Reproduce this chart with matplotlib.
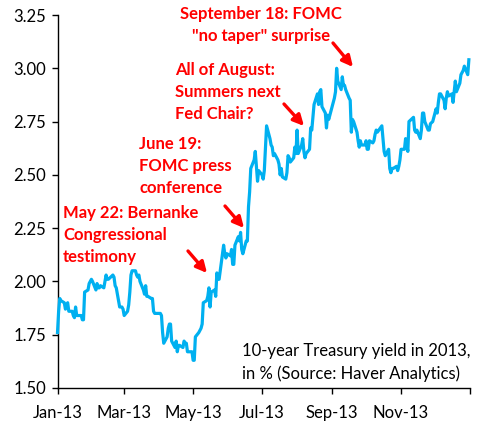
import matplotlib
matplotlib.use("Agg")
import matplotlib.pyplot as plt
import pandas as pd

plt.rcParams['font.family'] = ['Lato', 'DejaVu Sans']

dates = [
 "2013-01-01","2013-01-02","2013-01-03","2013-01-04","2013-01-07","2013-01-08","2013-01-09","2013-01-10","2013-01-11",
 "2013-01-14","2013-01-15","2013-01-16","2013-01-17","2013-01-18","2013-01-22","2013-01-23","2013-01-24","2013-01-25",
 "2013-01-28","2013-01-29","2013-01-30","2013-01-31","2013-02-01","2013-02-04","2013-02-05","2013-02-06","2013-02-07",
 "2013-02-08","2013-02-11","2013-02-12","2013-02-13","2013-02-14","2013-02-15","2013-02-19","2013-02-20","2013-02-21",
 "2013-02-22","2013-02-25","2013-02-26","2013-02-27","2013-02-28","2013-03-01","2013-03-04","2013-03-05","2013-03-06",
 "2013-03-07","2013-03-08","2013-03-11","2013-03-12","2013-03-13","2013-03-14","2013-03-15","2013-03-18","2013-03-19",
 "2013-03-20","2013-03-21","2013-03-22","2013-03-25","2013-03-26","2013-03-27","2013-03-28","2013-04-01","2013-04-02",
 "2013-04-03","2013-04-04","2013-04-05","2013-04-08","2013-04-09","2013-04-10","2013-04-11","2013-04-12","2013-04-15",
 "2013-04-16","2013-04-17","2013-04-18","2013-04-19","2013-04-22","2013-04-23","2013-04-24","2013-04-25","2013-04-26",
 "2013-04-29","2013-04-30","2013-05-01","2013-05-02","2013-05-03","2013-05-06","2013-05-07","2013-05-08","2013-05-09",
 "2013-05-10","2013-05-13","2013-05-14","2013-05-15","2013-05-16","2013-05-17","2013-05-20","2013-05-21","2013-05-22",
 "2013-05-23","2013-05-24","2013-05-28","2013-05-29","2013-05-30","2013-05-31","2013-06-03","2013-06-04","2013-06-05",
 "2013-06-06","2013-06-07","2013-06-10","2013-06-11","2013-06-12","2013-06-13","2013-06-14","2013-06-17","2013-06-18",
 "2013-06-19","2013-06-20","2013-06-21","2013-06-24","2013-06-25","2013-06-26","2013-06-27","2013-06-28","2013-07-01",
 "2013-07-02","2013-07-03","2013-07-05","2013-07-08","2013-07-09","2013-07-10","2013-07-11","2013-07-12","2013-07-15",
 "2013-07-16","2013-07-17","2013-07-18","2013-07-19","2013-07-22","2013-07-23","2013-07-24","2013-07-25","2013-07-26",
 "2013-07-29","2013-07-30","2013-07-31","2013-08-01","2013-08-02","2013-08-05","2013-08-06","2013-08-07","2013-08-08",
 "2013-08-09","2013-08-12","2013-08-13","2013-08-14","2013-08-15","2013-08-16","2013-08-19","2013-08-20","2013-08-21",
 "2013-08-22","2013-08-23","2013-08-26","2013-08-27","2013-08-28","2013-08-29","2013-08-30","2013-09-03","2013-09-04",
 "2013-09-05","2013-09-06","2013-09-09","2013-09-10","2013-09-11","2013-09-12","2013-09-13","2013-09-16","2013-09-17",
 "2013-09-18","2013-09-19","2013-09-20","2013-09-23","2013-09-24","2013-09-25","2013-09-26","2013-09-27","2013-09-30",
 "2013-10-01","2013-10-02","2013-10-03","2013-10-04","2013-10-07","2013-10-08","2013-10-09","2013-10-10","2013-10-11",
 "2013-10-15","2013-10-16","2013-10-17","2013-10-18","2013-10-21","2013-10-22","2013-10-23","2013-10-24","2013-10-25",
 "2013-10-28","2013-10-29","2013-10-30","2013-10-31","2013-11-01","2013-11-04","2013-11-05","2013-11-06","2013-11-07",
 "2013-11-08","2013-11-12","2013-11-13","2013-11-14","2013-11-15","2013-11-18","2013-11-19","2013-11-20","2013-11-21",
 "2013-11-22","2013-11-25","2013-11-26","2013-11-27","2013-11-29","2013-12-02","2013-12-03","2013-12-04","2013-12-05",
 "2013-12-06","2013-12-09","2013-12-10","2013-12-11","2013-12-12","2013-12-13","2013-12-16","2013-12-17","2013-12-18",
 "2013-12-19","2013-12-20","2013-12-23","2013-12-24","2013-12-26","2013-12-27","2013-12-30","2013-12-31",
]

yields = [
 1.76, 1.86, 1.92, 1.91, 1.90, 1.87, 1.89, 1.90, 1.86,
 1.86, 1.84, 1.83, 1.88, 1.84, 1.84, 1.82, 1.82, 1.95,
 1.96, 1.99, 2.00, 2.01, 2.00, 1.96, 1.99, 1.97, 1.97,
 1.98, 1.97, 2.00, 2.03, 2.01, 2.01, 2.03, 2.02, 1.98,
 1.97, 1.88, 1.88, 1.88, 1.87, 1.84, 1.86, 1.89, 1.95,
 2.03, 2.05, 2.05, 2.03, 2.02, 2.03, 2.00, 1.96, 1.94,
 1.98, 1.93, 1.93, 1.92, 1.92, 1.86, 1.85, 1.85, 1.85,
 1.84, 1.76, 1.71, 1.74, 1.78, 1.80, 1.80, 1.72, 1.69,
 1.72, 1.67, 1.70, 1.70, 1.69, 1.72, 1.71, 1.71, 1.67,
 1.67, 1.67, 1.63, 1.63, 1.74, 1.76, 1.77, 1.78, 1.80,
 1.90, 1.91, 1.93, 1.97, 1.88, 1.95, 1.96, 1.93, 2.04,
 2.01, 2.01, 2.17, 2.13, 2.11, 2.13, 2.12, 2.15, 2.08,
 2.08, 2.17, 2.21, 2.19, 2.23, 2.15, 2.13, 2.19, 2.19,
 2.35, 2.42, 2.53, 2.57, 2.61, 2.54, 2.47, 2.52, 2.50,
 2.48, 2.52, 2.73, 2.67, 2.64, 2.63, 2.59, 2.60, 2.57,
 2.55, 2.50, 2.53, 2.49, 2.48, 2.51, 2.59, 2.58, 2.56,
 2.58, 2.63, 2.60, 2.71, 2.60, 2.64, 2.67, 2.61, 2.58,
 2.60, 2.62, 2.72, 2.71, 2.77, 2.83, 2.88, 2.83, 2.89,
 2.90, 2.82, 2.79, 2.72, 2.78, 2.76, 2.78, 2.86, 2.89,
 3.00, 2.94, 2.90, 2.96, 2.92, 2.92, 2.90, 2.86, 2.85,
 2.70, 2.76, 2.75, 2.70, 2.66, 2.63, 2.66, 2.64, 2.64,
 2.66, 2.62, 2.62, 2.66, 2.65, 2.66, 2.69, 2.71, 2.70,
 2.73, 2.67, 2.61, 2.59, 2.62, 2.53, 2.51, 2.53, 2.53,
 2.54, 2.52, 2.54, 2.57, 2.62, 2.62, 2.67, 2.64, 2.61,
 2.75, 2.77, 2.71, 2.70, 2.71, 2.67, 2.71, 2.79, 2.79,
 2.75, 2.71, 2.71, 2.74, 2.75, 2.81, 2.79, 2.84, 2.88,
 2.88, 2.85, 2.81, 2.86, 2.89, 2.87, 2.88, 2.84, 2.89,
 2.94, 2.89, 2.93, 2.97, 2.99, 3.01, 2.97, 3.04,
]

tick_dates = ["2013-01-01","2013-03-01","2013-05-01","2013-07-01","2013-09-01","2013-11-01","2014-01-01"]
tick_labels = ["Jan-13","Mar-13","May-13","Jul-13","Sep-13","Nov-13",""]
y_ticks = [1.50, 1.75, 2.00, 2.25, 2.50, 2.75, 3.00, 3.25]

notes = [
    "September 18: FOMC\n\"no taper\" surprise",
    "All of August:\nSummers next\nFed Chair?",
    "June 19:\nFOMC press\nconference",
    "May 22: Bernanke\nCongressional\ntestimony",
]
caption = "10-year Treasury yield in 2013,\nin % (Source: Haver Analytics)"

W, H = 480, 425
fig = plt.figure(figsize=(W/100, H/100), dpi=100)
ax = fig.add_axes([57.5/W, 1-388/H, (470-57.5)/W, (388-15)/H])

x = pd.to_datetime(dates)
ax.plot(x, yields, color='#00B0F0', lw=2.3, solid_joinstyle='round', zorder=3, clip_on=False)

ax.set_xlim(pd.Timestamp("2013-01-01"), pd.Timestamp("2014-01-01"))
ax.set_ylim(1.5, 3.25)
ax.set_yticks(y_ticks)
ax.set_yticklabels([f"{v:.2f}" for v in y_ticks])
ax.set_xticks(pd.to_datetime(tick_dates))
ax.set_xticklabels(tick_labels)

for s in ['top', 'right']:
    ax.spines[s].set_visible(False)
for s in ['left', 'bottom']:
    ax.spines[s].set_color('black')
    ax.spines[s].set_linewidth(1.0)
ax.tick_params(axis='both', direction='out', length=4, width=1, colors='black', labelsize=12)
ax.tick_params(axis='y', pad=4)
ax.tick_params(axis='x', pad=8)

def fx(px): return px / W
def fy(py): return 1 - py / H

red = '#FF0000'
tkw = dict(color=red, fontsize=12, fontweight='bold', linespacing=1.45, va='top', transform=fig.transFigure)
fig.text(fx(261), fy(6), notes[0], ha='center', multialignment='center', **tkw)
fig.text(fx(175), fy(62), notes[1], ha='left', **tkw)
fig.text(fx(139), fy(136), notes[2], ha='left', **tkw)
fig.text(fx(63), fy(205), notes[3], ha='left', **tkw)

arrows = [((333, 43), (353, 67)), ((284, 104), (304, 126)), ((225, 206), (244, 228)), ((188, 251), (207, 273))]
for (x0, y0), (x1, y1) in arrows:
    ax.annotate('', xy=(fx(x1), fy(y1)), xytext=(fx(x0), fy(y0)), xycoords='figure fraction',
                textcoords='figure fraction',
                arrowprops=dict(arrowstyle='-|>', color=red, lw=2.4, mutation_scale=16,
                                shrinkA=0, shrinkB=0))

fig.text(fx(242), fy(343), caption, ha='left', va='top', fontsize=12, color='black',
         linespacing=1.45, transform=fig.transFigure)

fig.savefig("out.png", dpi=100)
